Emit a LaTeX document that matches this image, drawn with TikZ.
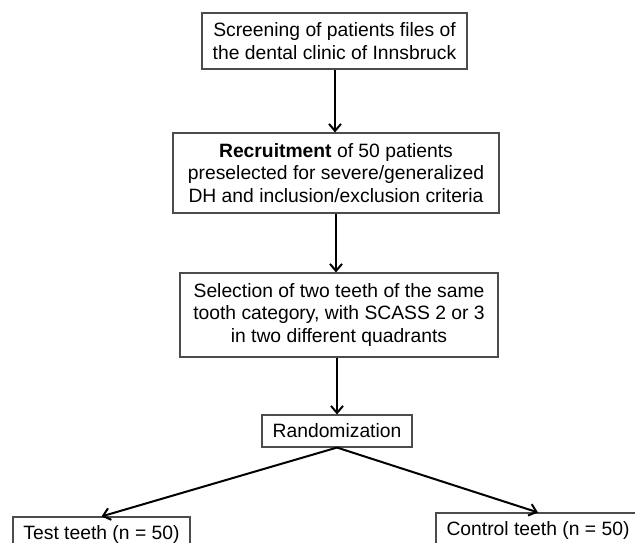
\documentclass[tikz,border=0pt]{standalone}
\usepackage{fontspec}
\setmainfont{Liberation Sans}
\usetikzlibrary{arrows.meta}
\begin{document}
\begin{tikzpicture}[x=1pt,y=-1pt,
  box/.style={draw=black!70, line width=1.1pt, fill=white, align=center, inner sep=0pt,
    font=\fontsize{19.3pt}{22.5pt}\selectfont},
  arr/.style={line width=2pt, -{Straight Barb[length=7pt,width=12pt,line width=2pt]}}]
\useasboundingbox (0,0) rectangle (635,543);
\clip (0,0) rectangle (635,543);
\node[box, minimum width=265pt, minimum height=56pt] (a) at (334.5,41)
  {Screening of patients files of\\the dental clinic of Innsbruck};
\node[box, minimum width=326pt, minimum height=80pt] (b) at (336,173)
  {\textbf{Recruitment} of 50 patients\\preselected for severe/generalized\\DH and inclusion/exclusion criteria};
\node[box, minimum width=318pt, minimum height=84pt] (c) at (339,315)
  {Selection of two teeth of the same\\tooth category, with SCASS 2 or 3\\in two different quadrants};
\node[box, minimum width=150pt, minimum height=32pt] (r) at (337,431) {Randomization};
\node[box, minimum width=177pt, minimum height=36pt] (t) at (101.5,535) {Test teeth (n = 50)};
\node[box, minimum width=204pt, minimum height=36pt] (k) at (538,531) {Control teeth (n = 50)};
\draw[arr] (a.south -| 335,0) -- (b.north -| 335,0);
\draw[arr] (b.south -| 336,0) -- (c.north -| 336,0);
\draw[arr] (r.north |- c.south) -- (r.north);
\draw[arr] (r.south) -- (t.north);
\draw[arr] (r.south) -- (k.north);
\end{tikzpicture}
\end{document}
